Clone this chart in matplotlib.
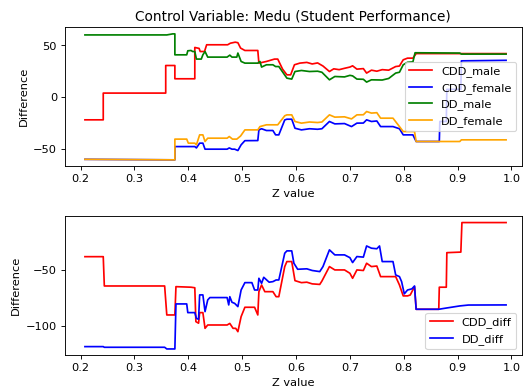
import matplotlib

matplotlib.use("Agg")
import matplotlib.pyplot as plt
from matplotlib.ticker import MultipleLocator

# values; each series has its own breakpoints in z
cdd_male_z = [0.208, 0.242, 0.242, 0.358, 0.358, 0.375, 0.375, 0.412, 0.412, 0.420, 0.422, 0.430,
              0.434, 0.473, 0.478, 0.487, 0.492, 0.497, 0.505, 0.529, 0.531, 0.545, 0.560, 0.566,
              0.575, 0.583, 0.590, 0.597, 0.607, 0.620, 0.630, 0.640, 0.650, 0.662, 0.670, 0.680,
              0.690, 0.700, 0.705, 0.713, 0.725, 0.731, 0.740, 0.750, 0.760, 0.772, 0.785, 0.792,
              0.799, 0.807, 0.817, 0.823, 0.990]
cdd_male = [-21.9, -21.9, 3.9, 3.9, 30.5, 30.5, 17.7, 17.7, 47.9, 47.0, 44.0, 44.0,
            50.5, 50.5, 52.0, 53.0, 52.5, 47.3, 45.0, 45.0, 32.8, 34.4, 36.7, 36.7,
            27.0, 21.5, 21.5, 31.2, 32.8, 33.5, 32.0, 33.0, 30.0, 24.7, 27.3, 26.5,
            27.8, 29.0, 30.2, 27.0, 27.5, 23.2, 26.0, 25.0, 26.5, 26.0, 29.5, 30.0,
            36.0, 37.6, 37.6, 42.0, 42.0]

cdd_female_z = [0.208, 0.375, 0.375, 0.412, 0.415, 0.421, 0.427, 0.431, 0.472, 0.476, 0.481, 0.486,
                0.492, 0.498, 0.505, 0.529, 0.531, 0.536, 0.545, 0.557, 0.562, 0.568, 0.579, 0.583,
                0.592, 0.598, 0.610, 0.625, 0.640, 0.648, 0.662, 0.672, 0.690, 0.703, 0.713, 0.725,
                0.731, 0.740, 0.750, 0.757, 0.780, 0.792, 0.799, 0.817, 0.823, 0.866, 0.867, 0.879,
                0.880, 0.906, 0.907, 0.990]
cdd_female = [-60.0, -60.5, -47.7, -47.7, -49.0, -44.4, -44.4, -50.2, -50.2, -49.0, -50.2, -50.2,
              -51.5, -46.0, -42.0, -41.9, -31.6, -30.5, -32.2, -32.2, -36.4, -36.4, -22.0, -21.3,
              -21.3, -30.0, -31.6, -30.5, -31.0, -30.5, -23.5, -25.8, -25.5, -28.4, -25.1, -25.0,
              -21.9, -23.5, -23.0, -28.4, -28.4, -30.5, -36.4, -36.4, -42.8, -42.8, -23.5, -23.5,
              7.5, 7.5, 35.0, 35.5]

dd_male_z = [0.208, 0.360, 0.371, 0.375, 0.375, 0.397, 0.399, 0.405, 0.408, 0.412, 0.415, 0.424,
             0.427, 0.431, 0.436, 0.472, 0.477, 0.481, 0.490, 0.492, 0.498, 0.505, 0.529, 0.533,
             0.536, 0.545, 0.557, 0.562, 0.568, 0.583, 0.592, 0.598, 0.610, 0.625, 0.640, 0.648,
             0.662, 0.672, 0.690, 0.700, 0.705, 0.713, 0.725, 0.731, 0.740, 0.760, 0.772, 0.785,
             0.792, 0.799, 0.807, 0.817, 0.821, 0.904, 0.907, 0.990]
dd_male = [60.0, 60.0, 61.0, 61.0, 40.8, 40.8, 44.7, 45.0, 44.0, 44.0, 36.7, 36.7,
           40.8, 44.0, 38.6, 38.6, 40.5, 38.6, 38.6, 42.5, 34.4, 32.8, 32.8, 34.4,
           29.0, 31.2, 31.2, 29.5, 29.5, 18.3, 17.4, 24.7, 25.7, 24.7, 25.0, 24.0,
           16.7, 19.9, 19.5, 21.0, 20.5, 17.4, 17.2, 14.5, 16.7, 16.5, 18.0, 23.2,
           24.0, 31.2, 33.6, 34.0, 42.8, 42.5, 41.5, 41.5]

dd_female_z = [0.208, 0.375, 0.375, 0.397, 0.400, 0.412, 0.415, 0.421, 0.427, 0.431, 0.436, 0.472,
               0.476, 0.482, 0.490, 0.497, 0.505, 0.529, 0.533, 0.545, 0.566, 0.579, 0.583, 0.592,
               0.598, 0.610, 0.625, 0.640, 0.648, 0.662, 0.672, 0.690, 0.703, 0.713, 0.725, 0.731,
               0.740, 0.750, 0.757, 0.780, 0.792, 0.799, 0.820, 0.823, 0.904, 0.907, 0.990]
dd_female = [-60.0, -60.5, -40.5, -40.5, -44.4, -44.4, -46.0, -36.4, -36.4, -42.8, -39.6, -39.6,
             -38.0, -40.5, -40.5, -37.5, -31.6, -31.6, -28.4, -26.7, -26.7, -18.0, -17.1, -17.1,
             -23.5, -25.1, -24.0, -24.5, -24.0, -17.1, -19.3, -19.0, -21.0, -17.1, -17.0, -13.9,
             -15.4, -15.0, -20.3, -20.3, -28.4, -33.2, -33.2, -42.8, -42.8, -41.2, -41.2]

cdd_diff_z = [0.208, 0.242, 0.244, 0.356, 0.360, 0.375, 0.377, 0.405, 0.412, 0.414, 0.419, 0.421,
              0.427, 0.431, 0.436, 0.472, 0.477, 0.483, 0.488, 0.492, 0.498, 0.505, 0.523, 0.529,
              0.531, 0.536, 0.542, 0.557, 0.563, 0.568, 0.579, 0.583, 0.592, 0.598, 0.610, 0.620,
              0.630, 0.644, 0.648, 0.662, 0.672, 0.690, 0.700, 0.705, 0.713, 0.725, 0.731, 0.740,
              0.750, 0.757, 0.785, 0.792, 0.799, 0.807, 0.812, 0.820, 0.823, 0.865, 0.866, 0.879,
              0.880, 0.906, 0.908, 0.990]
cdd_diff = [-38.1, -38.1, -64.4, -64.4, -90.4, -90.4, -65.0, -65.5, -66.0, -96.4, -97.8, -88.3,
            -88.3, -102.4, -99.4, -99.4, -98.0, -102.4, -102.4, -105.4, -91.9, -83.5, -83.5, -90.4,
            -69.5, -63.5, -69.5, -69.5, -74.0, -74.0, -47.0, -42.5, -42.5, -59.6, -61.4, -61.0,
            -62.5, -63.0, -60.0, -47.0, -50.0, -50.0, -53.0, -57.5, -50.0, -50.5, -44.0, -47.0,
            -46.5, -56.0, -56.0, -63.5, -73.3, -73.3, -72.5, -65.0, -85.3, -85.3, -65.5, -65.5,
            -34.5, -34.0, -7.5, -7.5]

dd_diff_z = [0.208, 0.242, 0.244, 0.356, 0.360, 0.375, 0.377, 0.397, 0.399, 0.412, 0.415, 0.419,
             0.421, 0.427, 0.431, 0.436, 0.440, 0.472, 0.475, 0.477, 0.481, 0.486, 0.492, 0.498,
             0.505, 0.518, 0.523, 0.529, 0.531, 0.536, 0.540, 0.550, 0.557, 0.563, 0.568, 0.579,
             0.583, 0.592, 0.596, 0.603, 0.620, 0.630, 0.644, 0.650, 0.662, 0.672, 0.690, 0.700,
             0.705, 0.713, 0.725, 0.731, 0.740, 0.750, 0.755, 0.760, 0.780, 0.785, 0.792, 0.796,
             0.801, 0.807, 0.815, 0.820, 0.823, 0.865, 0.875, 0.904, 0.920, 0.990]
dd_diff = [-118.8, -118.8, -119.4, -119.4, -120.9, -120.9, -80.5, -80.5, -88.3, -88.3, -93.4, -94.3,
           -72.4, -72.4, -87.4, -76.9, -74.8, -74.8, -81.4, -74.0, -79.0, -80.0, -82.9, -68.0,
           -61.4, -61.4, -68.0, -68.0, -57.5, -62.0, -56.6, -61.0, -60.5, -59.0, -59.0, -35.0,
           -32.9, -32.9, -44.0, -49.4, -49.0, -50.5, -51.5, -47.0, -32.0, -36.5, -36.5, -39.0,
           -43.4, -38.0, -38.5, -28.5, -30.5, -31.0, -28.5, -42.5, -42.5, -54.5, -56.0, -60.5,
           -71.5, -68.0, -67.0, -64.4, -85.3, -85.3, -84.5, -82.3, -81.5, -81.4]


def main() -> None:
    fig = plt.figure(figsize=(6.4, 4.8), dpi=81.72)
    ax1 = fig.add_axes([0.1243, 0.5765, 0.8732, 0.3539])
    ax2 = fig.add_axes([0.1243, 0.0944, 0.8732, 0.3546])

    ax1.plot(cdd_male_z, cdd_male, color="red", label="CDD_male")
    ax1.plot(cdd_female_z, cdd_female, color="blue", label="CDD_female")
    ax1.plot(dd_male_z, dd_male, color="green", label="DD_male")
    ax1.plot(dd_female_z, dd_female, color="orange", label="DD_female")
    ax1.set_title("Control Variable: Medu (Student Performance)", fontsize=12)
    ax1.set_xlabel("Z value")
    ax1.set_ylabel("Difference")
    ax1.set_xlim(0.171, 1.019)
    ax1.set_ylim(-66.3, 67.6)
    ax1.yaxis.set_major_locator(MultipleLocator(50))
    ax1.legend(loc="center right", fontsize=10)

    ax2.plot(cdd_diff_z, cdd_diff, color="red", label="CDD_diff")
    ax2.plot(dd_diff_z, dd_diff, color="blue", label="DD_diff")
    ax2.set_xlabel("Z value")
    ax2.set_ylabel("Difference")
    ax2.set_xlim(0.171, 1.019)
    ax2.set_ylim(-126.3, -1.5)
    ax2.yaxis.set_major_locator(MultipleLocator(50))
    ax2.legend(loc="lower right", fontsize=10)

    fig.savefig("out.png", dpi=81.72)
    plt.close(fig)


if __name__ == "__main__":
    main()
